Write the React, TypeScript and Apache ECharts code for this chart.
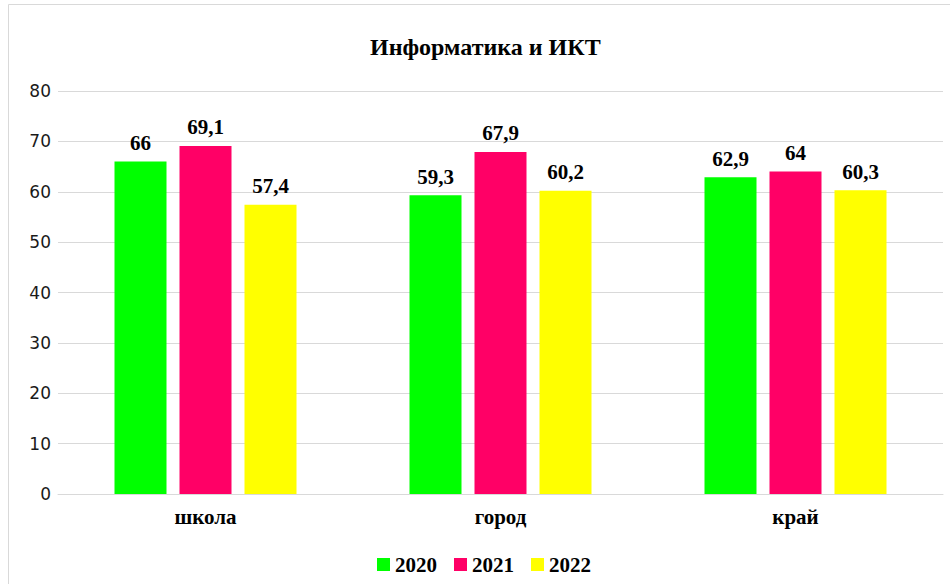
import React, { useEffect, useRef } from "react";
import * as echarts from "echarts";

const categories = ["школа", "город", "край"];
const seriesNames = ["2020", "2021", "2022"];
const v2020 = [66, 59.3, 62.9];
const v2021 = [69.1, 67.9, 64];
const v2022 = [57.4, 60.2, 60.3];
const colors = ["#00ff00", "#ff0066", "#ffff00"];
const title = "Информатика и ИКТ";

export default function App() {
  const ref = useRef<HTMLDivElement>(null);
  useEffect(() => {
    if (!ref.current) return;
    const chart = echarts.init(ref.current, undefined, { renderer: "svg" });
    const data = [v2020, v2021, v2022];
    const serif = "Liberation Serif";
    chart.setOption({
      animation: false,
      title: {
        text: title,
        left: 365,
        top: 30,
        textStyle: { fontFamily: serif, fontWeight: "bold", fontSize: 24, color: "#000" },
      },
      grid: { left: 58, right: 7, top: 91, bottom: 90, containLabel: false },
      legend: {
        bottom: 4,
        left: 372,
        itemWidth: 13,
        itemHeight: 13,
        itemGap: 17,
        icon: "rect",
        textStyle: { fontFamily: serif, fontWeight: "bold", fontSize: 21, color: "#000" },
        data: seriesNames,
      },
      xAxis: {
        type: "category",
        data: categories,
        axisTick: { show: false },
        axisLine: { lineStyle: { color: "#d9d9d9", width: 1 } },
        axisLabel: { fontFamily: serif, fontWeight: "bold", fontSize: 21, color: "#000", margin: 12 },
      },
      yAxis: {
        type: "value",
        min: 0,
        max: 80,
        interval: 10,
        axisLine: { show: false },
        axisTick: { show: false },
        splitLine: { lineStyle: { color: "#d9d9d9", width: 1 } },
        axisLabel: { fontFamily: "DejaVu Sans", fontSize: 17, color: "#1a1a1a", margin: 7 },
      },
      graphic: [
        { type: "line", shape: { x1: 8.5, y1: 4.5, x2: 950, y2: 4.5 }, style: { stroke: "#d9d9d9", lineWidth: 1 } },
        { type: "line", shape: { x1: 8.5, y1: 4.5, x2: 8.5, y2: 584 }, style: { stroke: "#d9d9d9", lineWidth: 1 } },
      ],
      series: seriesNames.map((name, i) => ({
        name,
        type: "bar",
        data: data[i],
        barWidth: 52,
        barGap: "25%",
        itemStyle: { color: colors[i] },
        label: {
          show: true,
          position: "top",
          distance: 8,
          fontFamily: serif,
          fontWeight: "bold",
          fontSize: 21,
          color: "#000",
          formatter: (p: any) => String(p.value).replace(".", ","),
        },
      })),
    });
    return () => chart.dispose();
  }, []);
  return (
    <div style={{ position: "fixed", left: 0, top: 0, width: 950, height: 584, background: "#fff" }}>
      <div ref={ref} style={{ width: 950, height: 584 }} />
    </div>
  );
}
